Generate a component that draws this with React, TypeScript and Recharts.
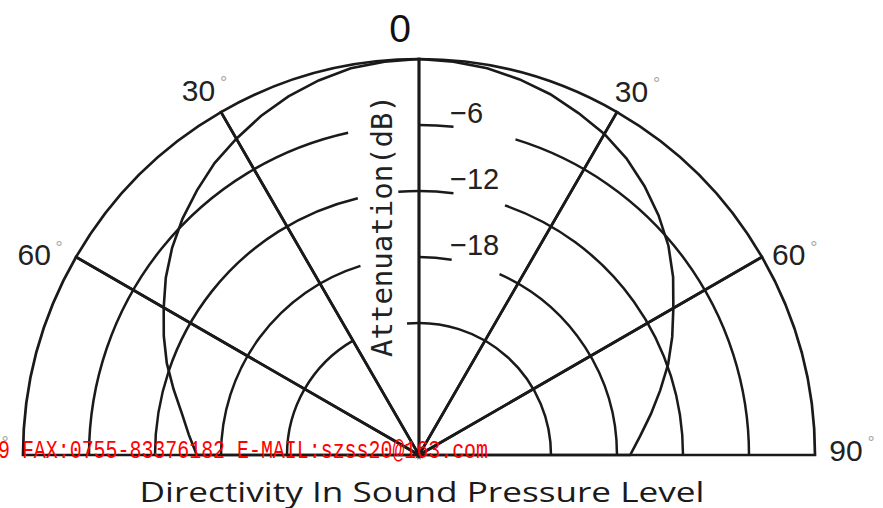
import React from 'react';
import { PieChart, Pie, RadarChart, Radar, PolarAngleAxis, PolarRadiusAxis } from 'recharts';

const W = 883;
const H = 508;
const CX = 419;
const CY = 455;
const OUTER_R = 396;
const MIN_DB = -36;
const INK = '#1a1a1a';

// off-axis angle in degrees (negative = left side) and attenuation in dB
const angles = [
  -90, -85, -80, -75, -70, -65, -60, -55, -50, -45, -40, -35, -30, -25, -20, -15, -10, -5, 0,
  5, 10, 15, 20, 25, 30, 35, 40, 45, 50, 55, 60, 65, 70, 75, 80, 85, 90,
];
const attenuation = [
  -15.8, -15.0, -14.1, -12.9, -11.6, -10.4, -9.2, -7.9, -6.7, -5.6, -4.6, -3.6, -2.8, -2.0, -1.3, -0.75, -0.3, -0.1, 0,
  -0.1, -0.3, -0.65, -1.1, -1.7, -2.3, -3.1, -4.1, -5.2, -6.4, -7.8, -9.3, -10.6, -11.9, -13.3, -14.6, -15.8, -16.8,
];

const angleTicks = [-90, -60, -30, 0, 30, 60, 90];
const dbTicks = [-18, -12, -6];
// six 30 degree sectors -> spokes and the outer half circle
const spokeSpans = [30, 30, 30, 30, 30, 30];

const data = angles.map((a, i) => ({ angle: a, db: attenuation[i] }));

// grid rings are broken around the axis labels (angles in recharts convention, 90 = top)
const ringArcs = [
  { db: -6, from: 180, to: 102.4 },
  { db: -6, from: 90, to: 84 },
  { db: -6, from: 73, to: 0 },
  { db: -12, from: 180, to: 103.4 },
  { db: -12, from: 94.5, to: 82.5 },
  { db: -12, from: 71, to: 0 },
  { db: -18, from: 180, to: 107.2 },
  { db: -18, from: 90, to: 80.5 },
  { db: -18, from: 66, to: 0 },
  { db: -24, from: 180, to: 120 },
  { db: -24, from: 95.2, to: 0 },
];

// the printed labels sit a little off the pure radial spot
const labelNudge: Record<number, [number, number]> = {
  '-90': [-12, -5],
  '-60': [-15, 13],
  '-30': [-7, 5],
  '30': [-1, 6],
  '60': [0, 13],
  '90': [0, -5],
};

const toR = (db: number) => (OUTER_R * (db - MIN_DB)) / -MIN_DB;

const FONT = 'Liberation Sans, Arial, sans-serif';

const renderAngleTick = (props: any) => {
  const { x, y, payload } = props;
  const v = payload.value;
  if (v === 0) {
    return (
      <text x={x - 19} y={y} textAnchor="middle" dominantBaseline="central" fontSize={39} fill="#111" fontFamily={FONT}>
        0
      </text>
    );
  }
  const [dx, dy] = labelNudge[v] || [0, 0];
  const tx = x + dx;
  const ty = y + dy;
  return (
    <g>
      <text x={tx} y={ty} textAnchor="middle" dominantBaseline="central" fontSize={30} fill="#222" fontFamily={FONT}>
        {Math.abs(v)}
      </text>
      <text x={tx + 25} y={ty - 7} textAnchor="middle" dominantBaseline="central" fontSize={18} fill="#a8a8a8" fontFamily={FONT}>
        °
      </text>
    </g>
  );
};

const renderDbTick = (props: any) => {
  const { x, y, payload } = props;
  return (
    <text x={x + 31} y={y - 2} fontSize={29} fill="#222" fontFamily={FONT}>
      {`−${Math.abs(payload.value)}`}
    </text>
  );
};

const layer: React.CSSProperties = { position: 'absolute', left: 0, top: 0 };

export default function App() {
  return (
    <div style={{ position: 'absolute', left: 0, top: 0, width: W, height: H, background: '#fff' }}>
      <div style={layer}>
        <PieChart width={W} height={H} margin={{ top: 0, right: 0, bottom: 0, left: 0 }}>
          <Pie
            data={spokeSpans.map((s) => ({ span: s }))}
            dataKey="span"
            cx={CX}
            cy={CY}
            innerRadius={0}
            outerRadius={OUTER_R}
            startAngle={180}
            endAngle={0}
            fill="none"
            stroke={INK}
            strokeWidth={2.7}
            isAnimationActive={false}
          />
          {ringArcs.map((a, i) => (
            <Pie
              key={i}
              data={[{ span: 1 }]}
              dataKey="span"
              cx={CX}
              cy={CY}
              innerRadius={toR(a.db)}
              outerRadius={toR(a.db)}
              startAngle={a.from}
              endAngle={a.to}
              fill="none"
              stroke={INK}
              strokeWidth={2.5}
              isAnimationActive={false}
            />
          ))}
        </PieChart>
      </div>
      <div style={layer}>
        <RadarChart
          width={W}
          height={H}
          data={data}
          cx={CX}
          cy={CY}
          outerRadius={OUTER_R}
          startAngle={180}
          endAngle={0}
          margin={{ top: 0, right: 0, bottom: 0, left: 0 }}
        >
          <PolarAngleAxis
            dataKey="angle"
            type="number"
            domain={[-90, 90]}
            ticks={angleTicks}
            tick={renderAngleTick}
            tickLine={false}
            axisLine={false}
            tickSize={31}
          />
          <PolarRadiusAxis
            angle={90}
            type="number"
            domain={[MIN_DB, 0]}
            ticks={dbTicks}
            tick={renderDbTick}
            tickLine={false}
            axisLine={false}
          />
          <Radar dataKey="db" stroke={INK} strokeWidth={2.6} fill="none" dot={false} isAnimationActive={false} />
        </RadarChart>
      </div>
      <svg width={W} height={H} style={{ ...layer, pointerEvents: 'none' }}>
        <text
          transform="translate(382,226) rotate(-90)"
          textAnchor="middle"
          dominantBaseline="central"
          fontFamily="DejaVu Sans Mono, monospace"
          fontSize={28}
          fill="#222"
          textLength={262}
          lengthAdjust="spacingAndGlyphs"
        >
          Attenuation(dB)
        </text>
        <text
          x={-2}
          y={458}
          fill="#ff0000"
          fontFamily="Liberation Mono, monospace"
          fontSize={26}
          textLength={490}
          lengthAdjust="spacingAndGlyphs"
        >
          9 FAX:0755-83376182 E-MAIL:szss20@163.com
        </text>
        <text
          x={422}
          y={502}
          textAnchor="middle"
          fontFamily="Open Sans, sans-serif"
          fontSize={27}
          fill="#1a1a1a"
          textLength={565}
          lengthAdjust="spacingAndGlyphs"
        >
          Directivity In Sound Pressure Level
        </text>
      </svg>
    </div>
  );
}
